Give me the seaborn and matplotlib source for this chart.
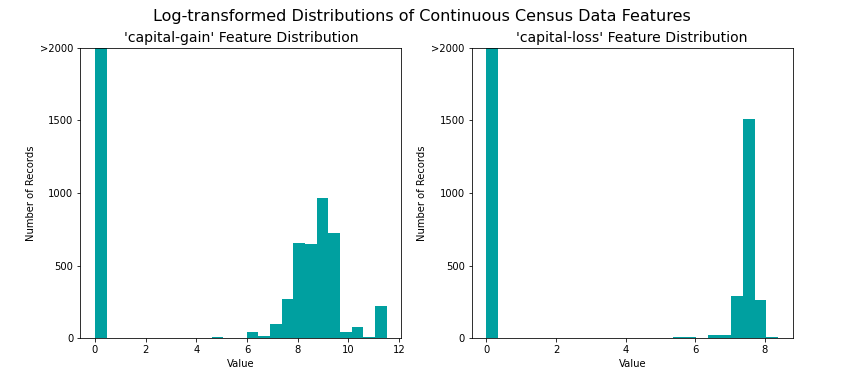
import numpy as np
import pandas as pd
import matplotlib
matplotlib.use("Agg")
import matplotlib.pyplot as plt
import seaborn as sns

# Дані: кількість записів у 25 бінах log(x+1)
features = ["capital-gain", "capital-loss"]
bin_max = {"capital-gain": 11.513, "capital-loss": 8.380}

gain_counts = [41432, 0, 0, 0, 0, 0, 0, 0, 0, 0,
               8, 0, 0, 45, 15, 95, 270, 655, 650, 965,
               725, 45, 80, 8, 225]
loss_counts = [43082, 0, 0, 0, 0, 0, 0, 0, 0, 0,
               0, 0, 0, 0, 0, 0, 8, 8, 0, 25,
               25, 290, 1510, 260, 12]
counts = {"capital-gain": gain_counts, "capital-loss": loss_counts}

ytick_vals = [0, 500, 1000, 1500, 2000]
ytick_labels = ["0", "500", "1000", "1500", ">2000"]

fig = plt.figure(figsize=(843 / 72, 377 / 72), dpi=72)

for i, feature in enumerate(features):
    ax = fig.add_axes([0.0953 + i * 0.4643, 0.1027, 0.3808, 0.771])
    edges = np.linspace(0, bin_max[feature], 26)
    df = pd.DataFrame({"value": (edges[:-1] + edges[1:]) / 2,
                       "n": counts[feature]})
    sns.histplot(data=df, x="value", weights="n", bins=list(edges),
                 color="#00A0A0", alpha=1, linewidth=0, ax=ax)
    ax.set_title("'%s' Feature Distribution" % feature, fontsize=14)
    ax.set_xlabel("Value")
    ax.set_ylabel("Number of Records")
    ax.set_ylim((0, 2000))
    ax.set_yticks(ytick_vals)
    ax.set_yticklabels(ytick_labels)

fig.suptitle("Log-transformed Distributions of Continuous Census Data Features",
             fontsize=16, y=0.977)

fig.savefig("out.png", dpi=72)
